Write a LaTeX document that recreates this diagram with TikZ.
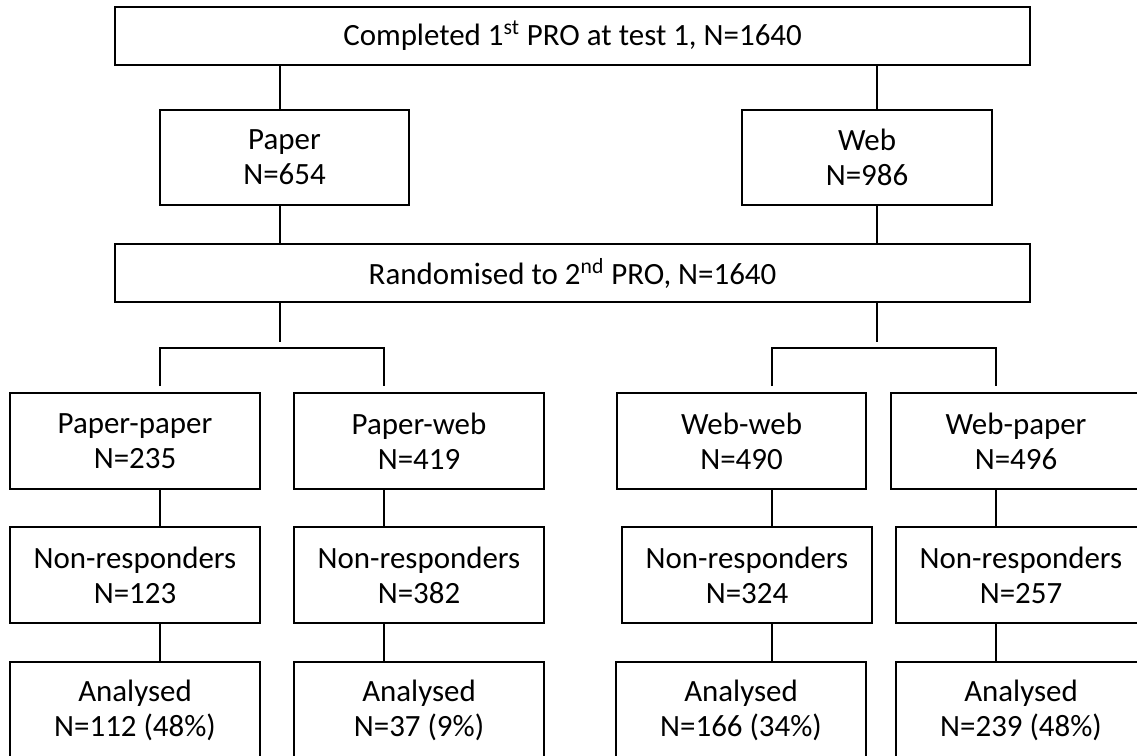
\documentclass[tikz,border=0pt]{standalone}
\usepackage{fontspec}
\setmainfont{Carlito}
\usetikzlibrary{positioning}

\tikzset{
  flowbox/.style={draw, line width=1.2pt, inner sep=0pt, align=center,
    minimum width=5cm, minimum height=1.92cm,
    font=\fontsize{17.6}{20}\selectfont},
  widebox/.style={flowbox, minimum width=18.3cm, minimum height=1.16cm},
  link/.style={line width=1.2pt}
}

\begin{document}
\begin{tikzpicture}[x=0.02cm, y=-0.02cm]
        \useasboundingbox (0,0) rectangle (1137,755);
        \clip (0,0) rectangle (1137,755);
        % first round
        \node[widebox] (top) at (572.5,36) {Completed 1\textsuperscript{st} PRO at test 1, N=1640};
        \node[flowbox, minimum width=4.98cm, minimum height=1.9cm] (paper) at (284.5,157.5) {Paper\\N=654};
        \node[flowbox, minimum height=1.9cm] (web) at (867,157.5) {Web\\N=986};
        \node[widebox] (rand) at (572.5,273) {Randomised to 2\textsuperscript{nd} PRO, N=1640};
        % arms
        \node[flowbox] (pp) at (135,441) {Paper-paper\\N=235};
        \node[flowbox] (pw) at (419,441) {Paper-web\\N=419};
        \node[flowbox, minimum width=4.98cm] (ww) at (741.5,441) {Web-web\\N=490};
        \node[flowbox] (wp) at (1016,441) {Web-paper\\N=496};
        % non-responders
        \node[flowbox] (np1) at (135,575) {Non-responders\\N=123};
        \node[flowbox] (np2) at (419,575) {Non-responders\\N=382};
        \node[flowbox] (np3) at (747,575) {Non-responders\\N=324};
        \node[flowbox] (np4) at (1021,575) {Non-responders\\N=257};
        % analysed
        \node[flowbox] (an1) at (135,710) {Analysed\\N=112 (48\%)};
        \node[flowbox] (an2) at (419,710) {Analysed\\N=37 (9\%)};
        \node[flowbox] (an3) at (741,710) {Analysed\\N=166 (34\%)};
        \node[flowbox] (an4) at (1021,710) {Analysed\\N=239 (48\%)};

        % line positions
        \coordinate (ps) at (280,0);
        \coordinate (ws) at (877,0);
        \coordinate (c1) at (160,0);
        \coordinate (c2) at (384,0);
        \coordinate (c3) at (772,0);
        \coordinate (c4) at (996,0);
        \coordinate (stemend) at (0,342);
        \coordinate (bar) at (0,348);
        \coordinate (legend) at (0,386);

        \draw[link] (top.south -| ps) -- (paper.north -| ps);
        \draw[link] (top.south -| ws) -- (web.north -| ws);
        \draw[link] (paper.south -| ps) -- (rand.north -| ps);
        \draw[link] (web.south -| ws) -- (rand.north -| ws);

        \draw[link] (rand.south -| ps) -- (stemend -| ps);
        \draw[link] (rand.south -| ws) -- (stemend -| ws);
        \draw[link] (legend -| c1) |- (bar -| c2) -- (legend -| c2);
        \draw[link] (legend -| c3) |- (bar -| c4) -- (legend -| c4);

        \foreach \a/\b/\c in {pp/np1/c1, pw/np2/c2, ww/np3/c3, wp/np4/c4,
                              np1/an1/c1, np2/an2/c2, np3/an3/c3, np4/an4/c4}
          \draw[link] (\a.south -| \c) -- (\b.north -| \c);
\end{tikzpicture}
\end{document}
